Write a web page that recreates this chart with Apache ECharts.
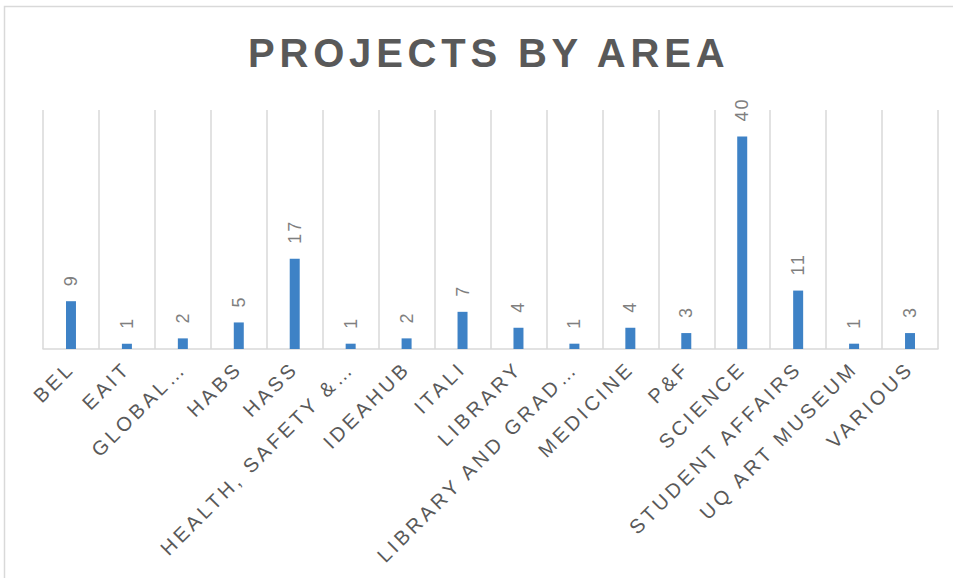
<!DOCTYPE html>
<html>
<head>
<meta charset="utf-8">
<script src="https://cdn.jsdelivr.net/npm/echarts@6/dist/echarts.min.js"></script>
<style>
  html, body { margin: 0; padding: 0; background: #fff; }
  #chart { width: 953px; height: 578px; }
  #chart text[style*="40px"] { letter-spacing: 4.8px; }
  #chart text[style*="20px"] { letter-spacing: 3.5px; }
  #chart text[style*="18px"] { letter-spacing: 2px; }
</style>
</head>
<body>
<div id="chart"></div>
<script>
const chartTitle = 'PROJECTS BY AREA';
const categories = ['BEL', 'EAIT', 'GLOBAL…', 'HABS', 'HASS', 'HEALTH, SAFETY &…', 'IDEAHUB', 'ITALI', 'LIBRARY', 'LIBRARY AND GRAD…', 'MEDICINE', 'P&F', 'SCIENCE', 'STUDENT AFFAIRS', 'UQ ART MUSEUM', 'VARIOUS'];
const projectCounts = [9, 1, 2, 5, 17, 1, 2, 7, 4, 1, 4, 3, 40, 11, 1, 3];

const chart = echarts.init(document.getElementById('chart'), null, { renderer: 'svg' });
chart.setOption({
  animation: false,
  backgroundColor: '#ffffff',
  textStyle: { fontFamily: 'Liberation Sans, Arial, sans-serif' },
  title: {
    text: chartTitle,
    left: 248,
    top: 33,
    padding: 0,
    textStyle: { fontSize: 40, fontWeight: 'bold', color: '#595959', fontFamily: 'Liberation Sans, Arial, sans-serif' }
  },
  graphic: [{
    type: 'rect',
    silent: true,
    z: -10,
    shape: { x: 4.5, y: 6.5, width: 1000, height: 1000 },
    style: { fill: 'none', stroke: '#d9d9d9', lineWidth: 1.5 }
  }],
  grid: { left: 43, right: 15, top: 110, bottom: 229, containLabel: false },
  xAxis: {
    type: 'category',
    data: categories,
    boundaryGap: true,
    axisLine: { show: true, lineStyle: { color: '#d9d9d9', width: 1.5 } },
    axisTick: { show: false },
    splitLine: { show: true, interval: 0, lineStyle: { color: '#d9d9d9', width: 1.5 } },
    axisLabel: {
      interval: 0,
      rotate: 45,
      margin: 16,
      fontSize: 20,
      color: '#595959',
      fontFamily: 'Liberation Sans, Arial, sans-serif'
    }
  },
  yAxis: {
    type: 'value',
    min: 0,
    max: 45,
    interval: 5,
    show: false,
    splitLine: { show: false }
  },
  series: [{
    type: 'bar',
    data: projectCounts,
    barWidth: 10,
    itemStyle: { color: '#3e82c6' },
    label: {
      show: true,
      position: 'top',
      rotate: 90,
      align: 'left',
      verticalAlign: 'middle',
      distance: 15,
      fontSize: 18,
      color: '#7f7f7f',
      fontFamily: 'Liberation Sans, Arial, sans-serif'
    }
  }]
});
</script>
</body>
</html>
